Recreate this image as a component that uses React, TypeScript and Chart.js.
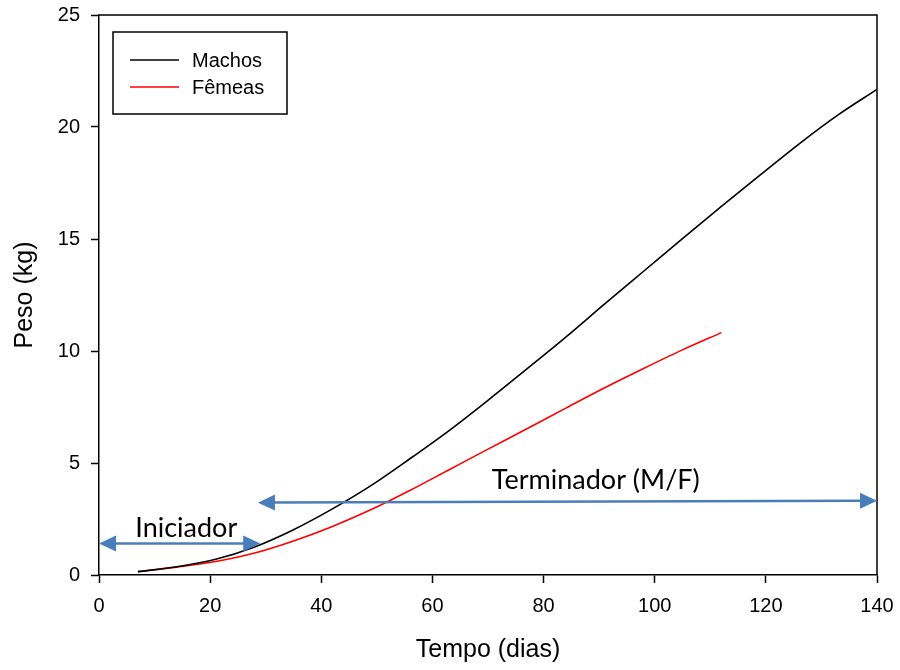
import React, { useEffect, useRef } from "react";
import { Chart, registerables } from "chart.js";

Chart.register(...registerables);

// ---- data ----
const machosDays = [7, 14, 21, 28, 35, 42, 49, 56, 63, 70, 77, 84, 91, 98, 105, 112, 119, 126, 133, 140];
const machosPeso = [0.15, 0.37, 0.7, 1.25, 2.02, 2.95, 4.0, 5.2, 6.45, 7.8, 9.2, 10.62, 12.1, 13.56, 15.02, 16.46, 17.86, 19.25, 20.54, 21.68];
const femeasDays = [7, 14, 21, 28, 35, 42, 49, 56, 63, 70, 77, 84, 91, 98, 105, 112];
const femeasPeso = [0.15, 0.35, 0.6, 0.98, 1.52, 2.17, 2.92, 3.78, 4.7, 5.62, 6.53, 7.45, 8.36, 9.22, 10.05, 10.82];

const seriesLabels = ["Machos", "Fêmeas"];
const seriesColors = ["#000000", "#ff0000"];

const xTickValues = [0, 20, 40, 60, 80, 100, 120, 140];
const yTickValues = [0, 5, 10, 15, 20, 25];

// annotation arrows (in data units)
const arrowX1 = [0, 28.6];
const arrowY1 = [1.41, 3.23];
const arrowX2 = [29, 140];
const arrowY2 = [1.41, 3.32];
// annotation texts (centre x, baseline y, in data units)
const noteTexts = ["Iniciador", "Terminador (M/F)"];
const noteX = [15.7, 89.4];
const noteY = [1.7, 3.84];

const ARIAL = "'Liberation Sans', Arial, sans-serif";
const CAL = "Lato, 'Open Sans', sans-serif";
const ARROW_COLOR = "#4A7EBB";

function drawArrow(ctx: CanvasRenderingContext2D, x1: number, y1: number, x2: number, y2: number) {
  const headLen = 17;
  const headHalf = 8;
  const ang = Math.atan2(y2 - y1, x2 - x1);
  const cos = Math.cos(ang);
  const sin = Math.sin(ang);
  ctx.save();
  ctx.strokeStyle = ARROW_COLOR;
  ctx.fillStyle = ARROW_COLOR;
  ctx.lineWidth = 2.5;
  ctx.beginPath();
  ctx.moveTo(x1 + cos * headLen * 0.8, y1 + sin * headLen * 0.8);
  ctx.lineTo(x2 - cos * headLen * 0.8, y2 - sin * headLen * 0.8);
  ctx.stroke();
  const head = (tx: number, ty: number, dir: number) => {
    const bx = tx - dir * cos * headLen;
    const by = ty - dir * sin * headLen;
    ctx.beginPath();
    ctx.moveTo(tx, ty);
    ctx.lineTo(bx - sin * headHalf, by + cos * headHalf);
    ctx.lineTo(bx + sin * headHalf, by - cos * headHalf);
    ctx.closePath();
    ctx.fill();
  };
  head(x2, y2, 1);
  head(x1, y1, -1);
  ctx.restore();
}

const extrasPlugin = {
  id: "extras",
  afterDraw(chart: any) {
    const { ctx, chartArea, scales } = chart;
    const xs = scales.x;
    const ys = scales.y;
    ctx.save();
    // frame top and right
    ctx.strokeStyle = "#000";
    ctx.lineWidth = 1.5;
    ctx.beginPath();
    ctx.moveTo(chartArea.left, chartArea.top);
    ctx.lineTo(chartArea.right, chartArea.top);
    ctx.lineTo(chartArea.right, chartArea.bottom);
    ctx.stroke();

    // arrows
    for (let i = 0; i < arrowX1.length; i++) {
      drawArrow(
        ctx,
        xs.getPixelForValue(arrowX1[i]),
        ys.getPixelForValue(arrowY1[i]),
        xs.getPixelForValue(arrowX2[i]),
        ys.getPixelForValue(arrowY2[i])
      );
    }
    // annotation texts
    ctx.fillStyle = "#000";
    ctx.font = `27px ${CAL}`;
    ctx.textAlign = "center";
    ctx.textBaseline = "alphabetic";
    for (let i = 0; i < noteTexts.length; i++) {
      ctx.fillText(noteTexts[i], xs.getPixelForValue(noteX[i]), ys.getPixelForValue(noteY[i]));
    }

    // legend box
    const bx = chartArea.left + 14;
    const by = chartArea.top + 17;
    ctx.strokeStyle = "#000";
    ctx.lineWidth = 1.5;
    ctx.strokeRect(bx, by, 174, 82);
    ctx.font = `20px ${ARIAL}`;
    ctx.textAlign = "left";
    ctx.textBaseline = "middle";
    chart.data.datasets.forEach((ds: any, i: number) => {
      const ry = by + 28 + i * 27;
      ctx.strokeStyle = ds.borderColor;
      ctx.lineWidth = 1.5;
      ctx.beginPath();
      ctx.moveTo(bx + 17, ry);
      ctx.lineTo(bx + 66, ry);
      ctx.stroke();
      ctx.fillStyle = "#000";
      ctx.fillText(ds.label, bx + 79, ry + 1);
    });
    ctx.restore();
  },
};

export default function App() {
  const ref = useRef<HTMLCanvasElement | null>(null);

  useEffect(() => {
    if (!ref.current) return;
    const chart = new Chart(ref.current, {
      type: "line",
      data: {
        datasets: [
          {
            label: seriesLabels[0],
            data: machosDays.map((d, i) => ({ x: d, y: machosPeso[i] })),
            borderColor: seriesColors[0],
            backgroundColor: seriesColors[0],
            borderWidth: 1.6,
            pointRadius: 0,
            cubicInterpolationMode: "monotone",
            fill: false,
          },
          {
            label: seriesLabels[1],
            data: femeasDays.map((d, i) => ({ x: d, y: femeasPeso[i] })),
            borderColor: seriesColors[1],
            backgroundColor: seriesColors[1],
            borderWidth: 1.6,
            pointRadius: 0,
            cubicInterpolationMode: "monotone",
            fill: false,
          },
        ],
      },
      options: {
        responsive: false,
        animation: false,
        layout: { padding: { top: 15, right: 23, left: 0, bottom: 0 } },
        plugins: {
          legend: { display: false },
          tooltip: { enabled: false },
        },
        scales: {
          x: {
            type: "linear",
            min: 0,
            max: 140,
            afterFit: (s: any) => {
              s.height = 95;
              s.paddingLeft = 0;
              s.paddingRight = 0;
            },
            afterBuildTicks: (s: any) => {
              s.ticks = xTickValues.map((v) => ({ value: v }));
            },
            ticks: {
              color: "#000",
              font: { family: ARIAL, size: 20 },
              padding: 11,
              maxRotation: 0,
              autoSkip: false,
            },
            grid: {
              display: true,
              drawOnChartArea: false,
              drawTicks: true,
              tickLength: 8,
              tickColor: "#000",
              tickWidth: 1.5,
            },
            border: { display: true, color: "#000", width: 1.5 },
            title: {
              display: true,
              text: "Tempo (dias)",
              color: "#000",
              font: { family: ARIAL, size: 25 },
              padding: { top: 0, bottom: 5 },
            },
          },
          y: {
            type: "linear",
            min: 0,
            max: 25,
            afterFit: (s: any) => {
              s.width = 99;
              s.paddingTop = 0;
              s.paddingBottom = 0;
            },
            afterBuildTicks: (s: any) => {
              s.ticks = yTickValues.map((v) => ({ value: v }));
            },
            ticks: {
              color: "#000",
              font: { family: ARIAL, size: 20 },
              padding: 11,
              autoSkip: false,
            },
            grid: {
              display: true,
              drawOnChartArea: false,
              drawTicks: true,
              tickLength: 8,
              tickColor: "#000",
              tickWidth: 1.5,
            },
            border: { display: true, color: "#000", width: 1.5 },
            title: {
              display: true,
              text: "Peso (kg)",
              color: "#000",
              font: { family: ARIAL, size: 25 },
              padding: { top: 10, bottom: 0 },
            },
          },
        },
      },
      plugins: [extrasPlugin],
    });
    return () => chart.destroy();
  }, []);

  return (
    <div style={{ position: "absolute", left: 0, top: 0, width: 900, height: 670, background: "#fff" }}>
      <canvas ref={ref} width={900} height={670} style={{ display: "block" }} />
    </div>
  );
}
